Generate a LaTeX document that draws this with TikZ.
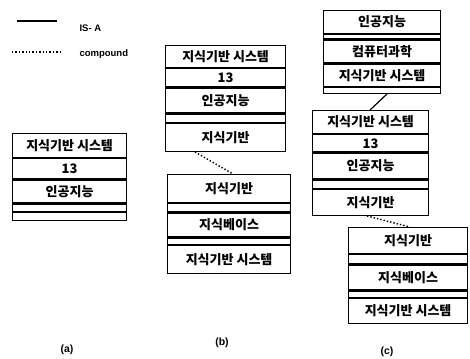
\documentclass[tikz,border=0pt]{standalone}
\usepackage{fontspec}
\setmainfont{Liberation Sans}
\newfontfamily\kor{Noto Sans CJK KR}
\usetikzlibrary{positioning}
\tikzstyle{cell} = [draw, rectangle, line width=1.2pt, inner sep=0pt, text centered, font=\kor\bfseries\fontsize{13}{13}\selectfont]
\tikzstyle{cellA} = [cell, minimum width=114pt]
\tikzstyle{cellB} = [cell, minimum width=120pt]
\tikzstyle{cellBB} = [cell, minimum width=123pt]
\tikzstyle{cellC} = [cell, minimum width=117pt]
\tikzstyle{cellCC} = [cell, minimum width=116pt]
\tikzstyle{cellCCC} = [cell, minimum width=119pt]
\tikzstyle{isaLine} = [line width=1.2pt]
\tikzstyle{compLine} = [line width=1.4pt, dotted]
\tikzstyle{legendText} = [anchor=west, font=\bfseries\fontsize{9.5}{9.5}\selectfont]
\tikzstyle{caption} = [font=\bfseries\fontsize{10.5}{10.5}\selectfont]

\begin{document}
\begin{tikzpicture}[x=1pt, y=-1pt]
		\useasboundingbox (0,0) rectangle (470,358);
		%legend
		\coordinate (isaL) at (17,21);
		\coordinate (isaR) at (57,21);
		\coordinate (compL) at (12,52);
		\coordinate (compR) at (62,52);
		\node[legendText](isaText) at (76,28){IS- A};
		\node[legendText](compText) at (76,54){compound};
		\draw[isaLine](isaL)--(isaR);
		\draw[compLine](compL)--(compR);

		%(a)
		\node[cellA, minimum height=24pt, anchor=north west](aKbs) at (12,133){지식기반 시스템};
		\node[cellA, minimum height=20pt, below=0pt of aKbs](aNum){13};
		\node[cellA, minimum height=23pt, below=0pt of aNum](aAi){인공지능};
		\node[cellA, minimum height=7pt, below=0pt of aAi](aGap){};
		\node[cellA, minimum height=8pt, below=0pt of aGap](aEnd){};

		%(b)
		\node[cellB, minimum height=22pt, anchor=north west](bKbs) at (165,45){지식기반 시스템};
		\node[cellB, minimum height=18pt, below=0pt of bKbs](bNum){13};
		\node[cellB, minimum height=25pt, below=0pt of bNum](bAi){인공지능};
		\node[cellB, minimum height=8pt, below=0pt of bAi](bGap){};
		\node[cellB, minimum height=28pt, below=0pt of bGap](bKb){지식기반};

		\node[cellBB, minimum height=28pt, anchor=north west](bbKb) at (167,174){지식기반};
		\node[cellBB, minimum height=8pt, below=0pt of bbKb](bbGap){};
		\node[cellBB, minimum height=24pt, below=0pt of bbGap](bbBase){지식베이스};
		\node[cellBB, minimum height=6pt, below=0pt of bbBase](bbGapB){};
		\node[cellBB, minimum height=28pt, below=0pt of bbGapB](bbKbs){지식기반 시스템};

		%(c)
		\node[cellC, minimum height=23pt, anchor=north west](cAi) at (323,10){인공지능};
		\node[cellC, minimum height=4pt, below=0pt of cAi](cGap){};
		\node[cellC, minimum height=23pt, below=0pt of cGap](cCs){컴퓨터과학};
		\node[cellC, minimum height=22pt, below=0pt of cCs](cKbs){지식기반 시스템};
		\node[cellC, minimum height=6pt, below=0pt of cKbs](cEnd){};

		\node[cellCC, minimum height=23pt, anchor=north west](ccKbs) at (312,110){지식기반 시스템};
		\node[cellCC, minimum height=17pt, below=0pt of ccKbs](ccNum){13};
		\node[cellCC, minimum height=26pt, below=0pt of ccNum](ccAi){인공지능};
		\node[cellCC, minimum height=8pt, below=0pt of ccAi](ccGap){};
		\node[cellCC, minimum height=26pt, below=0pt of ccGap](ccKb){지식기반};

		\node[cellCCC, minimum height=26pt, anchor=north west](cccKb) at (348,227){지식기반};
		\node[cellCCC, minimum height=9pt, below=0pt of cccKb](cccGap){};
		\node[cellCCC, minimum height=25pt, below=0pt of cccGap](cccBase){지식베이스};
		\node[cellCCC, minimum height=6pt, below=0pt of cccBase](cccGapB){};
		\node[cellCCC, minimum height=25pt, below=0pt of cccGapB](cccKbs){지식기반 시스템};

		%captions
		\node[caption](capA) at (67,350){(a)};
		\node[caption](capB) at (222,343){(b)};
		\node[caption](capC) at (387,352){(c)};

		%links
		\draw[compLine]([xshift=30pt]bKb.south west)--([xshift=66pt]bbKb.north west);
		\draw[isaLine]([xshift=64pt]cEnd.south west)--([xshift=58pt]ccKbs.north west);
		\draw[compLine]([xshift=55pt]ccKb.south west)--([xshift=62pt]cccKb.north west);
	\end{tikzpicture}
\end{document}
